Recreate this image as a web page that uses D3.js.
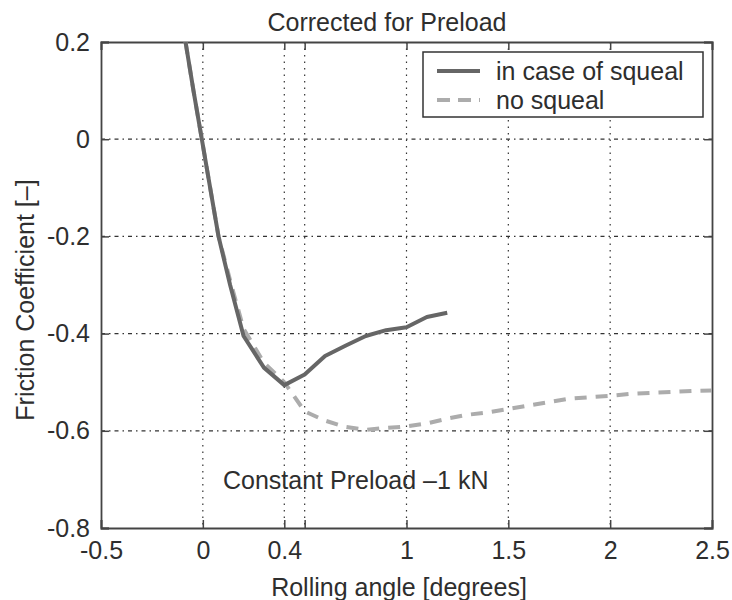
<!DOCTYPE html>
<html>
<head>
<meta charset="utf-8">
<script src="https://cdn.jsdelivr.net/npm/d3@7"></script>
<style>
  html, body { margin: 0; padding: 0; background: #fff; }
  svg { display: block; font-family: "Liberation Sans", Arial, sans-serif; }
</style>
</head>
<body>
<svg id="chart" width="732" height="600"></svg>
<script>
// ---- data ----
const squealX = [-0.085, -0.046, -0.005, 0.036, 0.077, 0.134, 0.2, 0.3, 0.4, 0.5, 0.6, 0.7, 0.8, 0.9, 1.0, 1.1, 1.2];
const squealY = [0.2, 0.1, 0.0, -0.1, -0.2, -0.3, -0.405, -0.47, -0.506, -0.484, -0.446, -0.425, -0.405, -0.393, -0.387, -0.366, -0.357];
const noSquealX = [-0.085, -0.046, -0.005, 0.036, 0.077, 0.14, 0.2, 0.3, 0.4, 0.5, 0.6, 0.7, 0.8, 0.9, 1.0, 1.1, 1.2, 1.3, 1.4, 1.5, 1.6, 1.7, 1.8, 1.9, 2.0, 2.1, 2.2, 2.3, 2.4, 2.5];
const noSquealY = [0.2, 0.1, 0.0, -0.1, -0.2, -0.3, -0.39, -0.46, -0.5, -0.56, -0.579, -0.592, -0.598, -0.594, -0.591, -0.585, -0.575, -0.567, -0.562, -0.555, -0.548, -0.541, -0.534, -0.531, -0.528, -0.524, -0.522, -0.52, -0.518, -0.517];
const xTicks = [-0.5, 0, 0.4, 0.5, 1, 1.5, 2, 2.5];
const xTickLabels = ["-0.5", "0", "0.4", "", "1", "1.5", "2", "2.5"];
const yTicks = [0.2, 0, -0.2, -0.4, -0.6, -0.8];
const yTickLabels = ["0.2", "0", "-0.2", "-0.4", "-0.6", "-0.8"];
const seriesNames = ["in case of squeal", "no squeal"];
const titleText = "Corrected for Preload";
const xLabel = "Rolling angle [degrees]";
const yLabel = "Friction Coefficient [\u2013]";
const annotation = "Constant Preload \u20131 kN";

// ---- layout ----
const svg = d3.select("#chart");
const L = 101, R = 712, T = 42, B = 528;
const x = d3.scaleLinear().domain([-0.5, 2.5]).range([L, R]);
const y = d3.scaleLinear().domain([-0.8, 0.2]).range([B, T]);
const fs = 25;
const textCol = "#2e2e2e";

// grid
const gx = xTicks.filter(v => v > -0.5 && v < 2.5);
const gy = yTicks.filter(v => v > -0.8 && v < 0.2);
svg.append("g").selectAll("line").data(gx).join("line")
  .attr("x1", d => x(d)).attr("x2", d => x(d)).attr("y1", T).attr("y2", B)
  .attr("stroke", "#333").attr("stroke-width", 1.2).attr("stroke-dasharray", "1.5,5");
svg.append("g").selectAll("line").data(gy).join("line")
  .attr("x1", L).attr("x2", R).attr("y1", d => y(d)).attr("y2", d => y(d))
  .attr("stroke", "#333").attr("stroke-width", 1.2).attr("stroke-dasharray", "4,4,1.5,4");

// axes with inside ticks
const tickLen = 8;
const xAxisB = d3.axisBottom(x).tickValues(xTicks).tickSize(-tickLen).tickFormat((d, i) => xTickLabels[i]).tickPadding(13);
const xAxisT = d3.axisTop(x).tickValues(xTicks).tickSize(-tickLen).tickFormat("");
const yAxisL = d3.axisLeft(y).tickValues(yTicks).tickSize(-tickLen).tickFormat((d, i) => yTickLabels[i]).tickPadding(11);
const yAxisR = d3.axisRight(y).tickValues(yTicks).tickSize(-tickLen).tickFormat("");

function styleAxis(g) {
  g.selectAll("path").attr("stroke", "#444").attr("stroke-width", 1.8);
  g.selectAll("line").attr("stroke", "#444").attr("stroke-width", 1.5);
  g.selectAll("text").attr("fill", textCol).style("font-size", fs + "px").style("font-family", "Liberation Sans, Arial, sans-serif");
}
svg.append("g").attr("transform", `translate(0,${B})`).call(xAxisB).call(styleAxis);
svg.append("g").attr("transform", `translate(0,${T})`).call(xAxisT).call(styleAxis);
svg.append("g").attr("transform", `translate(${L},0)`).call(yAxisL).call(styleAxis);
svg.append("g").attr("transform", `translate(${R},0)`).call(yAxisR).call(styleAxis);

// clip
svg.append("clipPath").attr("id", "clip").append("rect")
  .attr("x", L).attr("y", T).attr("width", R - L).attr("height", B - T);

const line = d3.line().x(d => x(d[0])).y(d => y(d[1]));
const ns = noSquealX.map((v, i) => [v, noSquealY[i]]);
const sq = squealX.map((v, i) => [v, squealY[i]]);

const plot = svg.append("g").attr("clip-path", "url(#clip)");
plot.append("path").datum(ns).attr("d", line)
  .attr("fill", "none").attr("stroke", "#acacac").attr("stroke-width", 4)
  .attr("stroke-dasharray", "12,9");
plot.append("path").datum(sq).attr("d", line)
  .attr("fill", "none").attr("stroke", "#666").attr("stroke-width", 4)
  .attr("stroke-linejoin", "round");

// legend
const lg = svg.append("g");
lg.append("rect").attr("x", 423).attr("y", 52).attr("width", 280).attr("height", 65)
  .attr("fill", "#fff").attr("stroke", "#333").attr("stroke-width", 1.5);
const legendStyles = [{c: "#666", dash: null}, {c: "#acacac", dash: "13,8"}];
seriesNames.forEach((name, i) => {
  const yy = 71 + i * 29;
  lg.append("line").attr("x1", 437).attr("x2", 480).attr("y1", yy).attr("y2", yy)
    .attr("stroke", legendStyles[i].c).attr("stroke-width", 4)
    .attr("stroke-dasharray", legendStyles[i].dash);
  lg.append("text").attr("x", 496).attr("y", yy).attr("dy", "0.35em")
    .attr("fill", textCol).style("font-size", fs + "px").text(name);
});

// texts
svg.append("text").attr("x", 387).attr("y", 31).attr("text-anchor", "middle")
  .attr("fill", textCol).style("font-size", fs + "px").text(titleText);
svg.append("text").attr("x", 399).attr("y", 596).attr("text-anchor", "middle")
  .attr("fill", textCol).style("font-size", fs + "px").text(xLabel);
svg.append("text").attr("transform", "translate(34,300) rotate(-90)").attr("text-anchor", "middle")
  .attr("fill", textCol).style("font-size", fs + "px").text(yLabel);
svg.append("text").attr("x", 223).attr("y", 489)
  .attr("fill", textCol).style("font-size", fs + "px").text(annotation);
</script>
</body>
</html>
